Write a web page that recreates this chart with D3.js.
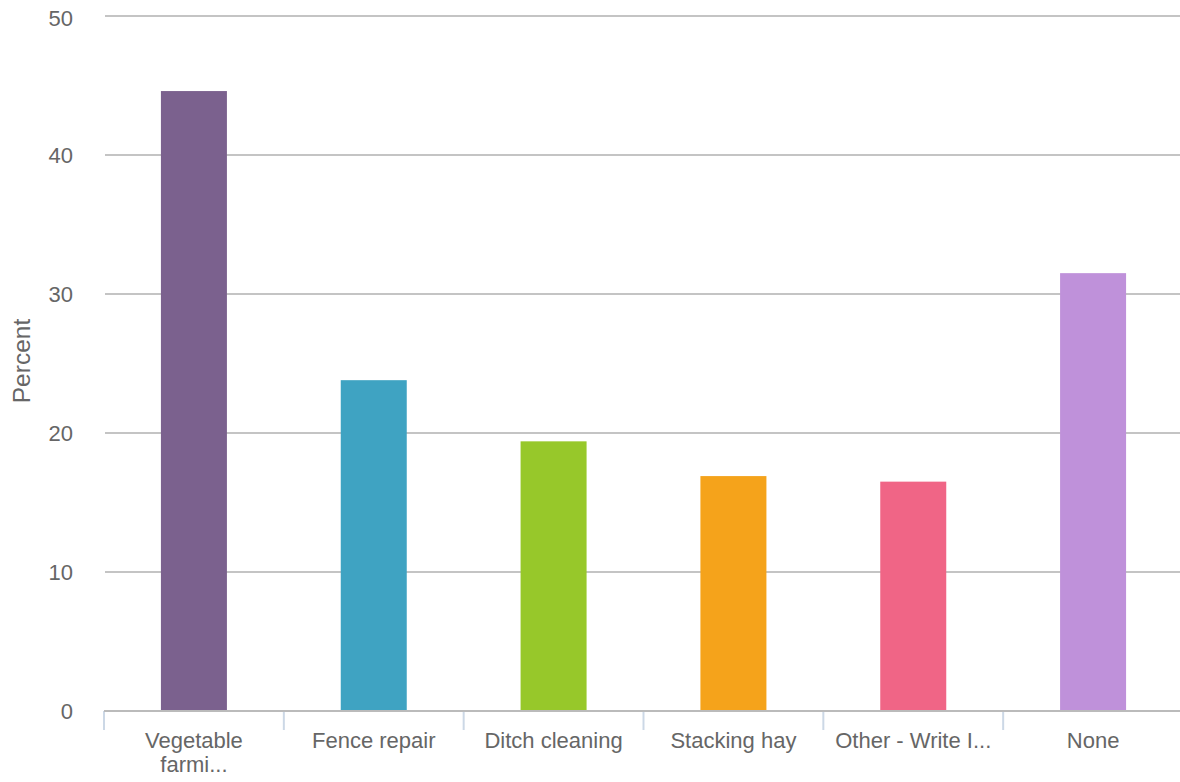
<!DOCTYPE html>
<html>
<head>
<meta charset="utf-8">
<script src="https://cdn.jsdelivr.net/npm/d3@7"></script>
<style>
  body { margin: 0; background: #fff; }
  svg { display: block; font-family: "Liberation Sans", Arial, Helvetica, sans-serif; }
</style>
</head>
<body>
<svg id="chart" width="1180" height="782"></svg>
<script>
const categories = ["Vegetable farmi...", "Fence repair", "Ditch cleaning", "Stacking hay", "Other - Write I...", "None"];
const values = [44.6, 23.8, 19.4, 16.9, 16.5, 31.5];
const colors = ["#7b618e", "#3fa3c2", "#97c82a", "#f5a31b", "#f06586", "#bf91da"];
const yTicks = [0, 10, 20, 30, 40, 50];
const yLabel = "Percent";

const svg = d3.select("#chart");
const margin = { left: 104, right: -3, top: 16, bottom: 71 };
const W = 1180, H = 782;

const x = d3.scaleBand().domain(categories).range([margin.left, W - margin.right]).paddingInner(0.633).paddingOuter(0.3165);
const y = d3.scaleLinear().domain([0, 50]).range([H - margin.bottom, margin.top]);

// grid lines
svg.append("g").selectAll("line").data(yTicks.filter(d => d > 0)).join("line")
  .attr("x1", 105).attr("x2", W)
  .attr("y1", d => y(d)).attr("y2", d => y(d))
  .attr("stroke", "#c4c4c4").attr("stroke-width", 2);

// y tick labels
svg.append("g").selectAll("text").data(yTicks).join("text")
  .attr("x", 73).attr("y", d => y(d) + (d === 50 ? 2 : 0)).attr("dy", "0.38em")
  .attr("text-anchor", "end").attr("fill", "#666").attr("font-size", 22)
  .text(d => d);

// y label
svg.append("text")
  .attr("transform", `translate(30,361) rotate(-90)`)
  .attr("text-anchor", "middle").attr("fill", "#666").attr("font-size", 24.5)
  .text(yLabel);

// bars
svg.append("g").selectAll("rect").data(categories).join("rect")
  .attr("x", d => x(d)).attr("width", x.bandwidth())
  .attr("y", (d, i) => y(values[i])).attr("height", (d, i) => y(0) - y(values[i]))
  .attr("fill", (d, i) => colors[i]);

// x axis
const bandEdges = categories.map(c => x(c) - x.step() * x.paddingInner() / 2);
svg.append("g").selectAll("line").data(bandEdges).join("line")
  .attr("x1", d => d).attr("x2", d => d)
  .attr("y1", y(0)).attr("y2", y(0) + 19)
  .attr("stroke", "#ccd8e6").attr("stroke-width", 2);
svg.append("line")
  .attr("x1", 104).attr("x2", W).attr("y1", y(0)).attr("y2", y(0))
  .attr("stroke", "#bbbbbb").attr("stroke-width", 2);

// x labels with wrapping
const lbl = svg.append("g").selectAll("text").data(categories).join("text")
  .attr("x", d => x(d) + x.bandwidth() / 2)
  .attr("y", y(0) + 37)
  .attr("text-anchor", "middle").attr("fill", "#666").attr("font-size", 22);
lbl.each(function(d) {
  const t = d3.select(this);
  const words = d.split(" ");
  let line = [];
  let tspan = t.append("tspan").attr("x", t.attr("x")).attr("dy", 0);
  for (const w of words) {
    line.push(w);
    tspan.text(line.join(" "));
    if (tspan.node().getComputedTextLength() > 165 && line.length > 1) {
      line.pop();
      tspan.text(line.join(" "));
      line = [w];
      tspan = t.append("tspan").attr("x", t.attr("x")).attr("dy", 24).text(w);
    }
  }
});
</script>
</body>
</html>
